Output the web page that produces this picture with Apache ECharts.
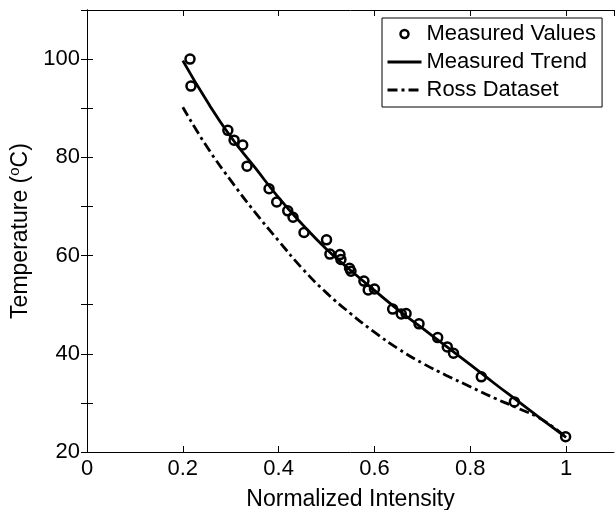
<!DOCTYPE html>
<html>
<head>
<meta charset="utf-8">
<title>Temperature vs Normalized Intensity</title>
<script src="https://cdn.jsdelivr.net/npm/echarts@6/dist/echarts.min.js"></script>
<style>
    html, body { margin: 0; padding: 0; background: #fff; }
    #chart { width: 616px; height: 510px; }
</style>
</head>
<body>
<div id="chart"></div>
<script>
// measured points (normalized intensity, temperature)
var measuredX = [0.215, 0.217, 0.294, 0.307, 0.325, 0.334, 0.380, 0.396, 0.419, 0.430,
    0.453, 0.500, 0.507, 0.528, 0.530, 0.548, 0.551, 0.578, 0.587, 0.600,
    0.638, 0.656, 0.666, 0.693, 0.732, 0.752, 0.765, 0.823, 0.892, 0.999];
var measuredY = [100.0, 94.5, 85.5, 83.5, 82.5, 78.2, 73.6, 70.9, 69.1, 67.8,
    64.7, 63.2, 60.3, 60.2, 59.2, 57.4, 56.8, 54.8, 53.0, 53.2,
    49.1, 48.1, 48.2, 46.1, 43.3, 41.4, 40.1, 35.3, 30.2, 23.1];

// trend curve
var trendX = [0.2, 0.25, 0.3, 0.35, 0.4, 0.45, 0.5, 0.55, 0.6, 0.65, 0.7, 0.75, 0.8, 0.85, 0.9, 0.95, 1.0];
var trendY = [99.7, 91.5, 84.2, 78.0, 71.8, 66.3, 61.3, 57.0, 52.9, 48.9, 45.2, 41.5, 37.8, 34.0, 30.3, 26.6, 23.0];

// Ross dataset
var rossX = [0.2, 0.25, 0.3, 0.35, 0.4, 0.45, 0.5, 0.55, 0.6, 0.65, 0.7, 0.75, 0.8, 0.85, 0.9, 0.95, 1.0];
var rossY = [90.2, 82.2, 75.3, 68.9, 63.0, 57.3, 52.4, 48.2, 44.4, 41.0, 38.1, 35.6, 33.3, 31.0, 28.9, 26.6, 23.0];

var seriesNames = ['Measured Values', 'Measured Trend', 'Ross Dataset'];

function zip(xs, ys) {
    return xs.map(function (x, i) { return [x, ys[i]]; });
}

var font = 'Liberation Sans, Arial, Helvetica, sans-serif';
var chart = echarts.init(document.getElementById('chart'));

chart.setOption({
    backgroundColor: '#fff',
    animation: false,
    textStyle: { fontFamily: font, color: '#000' },
    grid: { left: 87, right: 2, top: 10, bottom: 58, outerBoundsMode: 'none', containLabel: false },
    legend: {
        data: [
            {
                name: seriesNames[0], icon: 'circle',
                itemStyle: { color: '#fff', borderColor: '#000', borderWidth: 2.5, opacity: 1 }
            },
            { name: seriesNames[1], itemStyle: { opacity: 0 } },
            { name: seriesNames[2], itemStyle: { opacity: 0 } }
        ],
        orient: 'vertical',
        left: 382,
        top: 18,
        padding: [5, 6, 6, 4],
        itemWidth: 34,
        itemHeight: 8,
        itemGap: 6,
        symbolKeepAspect: true,
        borderColor: '#000',
        borderWidth: 1,
        backgroundColor: '#fff',
        lineStyle: { width: 3 },
        textStyle: { fontFamily: font, fontSize: 22, color: '#000' }
    },
    xAxis: [
        {
            type: 'value',
            min: 0,
            max: 1.1,
            interval: 0.2,
            name: 'Normalized Intensity',
            nameLocation: 'middle',
            nameGap: 36,
            nameMoveOverlap: false,
            nameTextStyle: { fontSize: 23, color: '#000' },
            axisLine: { lineStyle: { color: '#000', width: 1 } },
            axisTick: { inside: true, length: 6, lineStyle: { color: '#000' } },
            axisLabel: {
                fontSize: 22, color: '#000', margin: 6, showMaxLabel: false,
                formatter: function (v) {
                    return Math.abs(v * 5 - Math.round(v * 5)) < 1e-6 ? String(+v.toFixed(1)) : '';
                }
            },
            splitLine: { show: false }
        },
        {
            type: 'value',
            position: 'top',
            min: 0,
            max: 1.1,
            interval: 0.2,
            axisLine: { lineStyle: { color: '#000', width: 1 } },
            axisTick: { inside: true, length: 6, lineStyle: { color: '#000' } },
            axisLabel: { show: false },
            splitLine: { show: false }
        }
    ],
    yAxis: [
        {
            type: 'value',
            min: 20,
            max: 110,
            interval: 10,
            name: 'Temperature ({sup|o}C)',
            nameLocation: 'middle',
            nameGap: 52,
            nameMoveOverlap: false,
            nameTextStyle: {
                fontSize: 23, color: '#000', lineHeight: 28,
                rich: {
                    sup: { fontSize: 15, color: '#000', verticalAlign: 'top', lineHeight: 28 }
                }
            },
            axisLine: { lineStyle: { color: '#000', width: 1 } },
            axisTick: { inside: true, length: 6, lineStyle: { color: '#000' } },
            axisLabel: {
                fontSize: 22, color: '#000', margin: 7,
                formatter: function (v) { return v % 20 === 0 ? String(v) : ''; }
            },
            splitLine: { show: false }
        },
        {
            type: 'value',
            position: 'right',
            min: 20,
            max: 110,
            interval: 10,
            axisLine: { lineStyle: { color: '#000', width: 1 } },
            axisTick: { inside: true, length: 6, lineStyle: { color: '#000' } },
            axisLabel: { show: false },
            splitLine: { show: false }
        }
    ],
    series: [
        {
            name: seriesNames[1],
            type: 'line',
            data: zip(trendX, trendY),
            smooth: true,
            showSymbol: false,
            symbol: 'none',
            color: '#000',
            lineStyle: { color: '#000', width: 2.8 },
            z: 2
        },
        {
            name: seriesNames[2],
            type: 'line',
            data: zip(rossX, rossY),
            smooth: true,
            showSymbol: false,
            symbol: 'none',
            color: '#000',
            lineStyle: { color: '#000', width: 2.8, type: [10, 4, 3, 4] },
            z: 2
        },
        {
            name: seriesNames[0],
            type: 'scatter',
            data: zip(measuredX, measuredY),
            symbol: 'circle',
            symbolSize: 9,
            color: '#000',
            itemStyle: { color: 'rgba(0,0,0,0)', borderColor: '#000', borderWidth: 2.5, opacity: 1 },
            z: 3
        }
    ]
});
</script>
</body>
</html>
